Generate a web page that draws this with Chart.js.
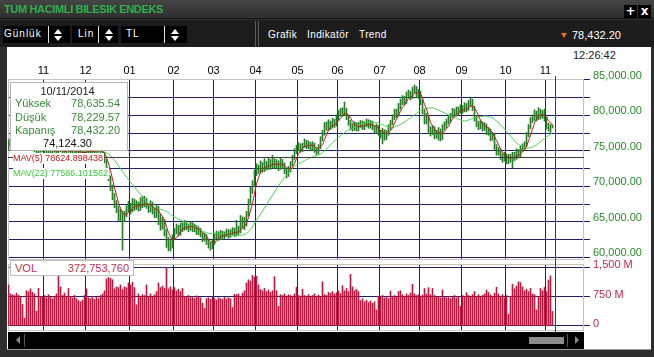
<!DOCTYPE html>
<html><head><meta charset="utf-8">
<script src="https://cdn.jsdelivr.net/npm/chart.js@4.4.1/dist/chart.umd.min.js"></script>
<style>
*{box-sizing:border-box}
html,body{margin:0;padding:0}
body{width:654px;height:357px;position:relative;overflow:hidden;background:#2e2e2e;font-family:"Liberation Sans",Arial,sans-serif}
.a{position:absolute;white-space:nowrap}
#titlebar{left:0;top:0;width:654px;height:19px;background:linear-gradient(#444,#2f2f2f);border-bottom:1px solid #121212}
#title{left:4px;top:3px;color:#2fae4b;font-weight:bold;font-size:11px;line-height:13px;letter-spacing:-0.35px}
.btn{top:5px;width:13px;height:13px;background:#000;color:#fff;font:bold 12px/13px "DejaVu Sans",sans-serif;text-align:center}
#toolbar{left:0;top:20px;width:654px;height:27px;background:#1c1c1c}
.blk{background:#000;top:26px;height:17px}
.sep{background:#e0e0e0;width:1px;top:26px;height:17px}
.dd{color:#fff;font-size:10px;line-height:12px;letter-spacing:1px;top:28px}
.menu{color:#fff;font-size:10px;line-height:12px;letter-spacing:0.4px;top:29px}
.arr{width:8px;height:12px;top:29px}
.arr:before{content:"";position:absolute;left:0;top:0;border-left:4px solid transparent;border-right:4px solid transparent;border-bottom:5px solid #fff}
.arr:after{content:"";position:absolute;left:0;top:7px;border-left:4px solid transparent;border-right:4px solid transparent;border-top:5px solid #fff}
.vline{width:1px;top:21px;height:26px;background:#5a5a5a}
#white{left:7px;top:47px;width:644px;height:302px;background:#fff}
canvas{position:absolute;left:0}
#info{left:10px;top:82px;width:118px;height:69px;background:#fff;border:1px solid #b4b4b4}
#info div{position:absolute;font-size:11px;line-height:13px;white-space:nowrap}
.g{color:#3a8a3a}
.mav{font-size:9px;line-height:11px;background:#fff;padding-right:1px}
#vol{left:10px;top:260px;width:124px;height:16px;background:#fff;border:1px solid #bdbdbd}
#vol div{position:absolute;top:1px;font-size:11px;line-height:13px;color:#c3304e}
#scroll{left:8px;top:332px;width:576px;height:17px;background:#000}
</style>
</head>
<body>
<div class="a" id="titlebar"></div>
<div class="a" id="title">TUM HACIMLI BILESIK ENDEKS</div>
<div class="a btn" style="left:624px">+</div>
<div class="a btn" style="left:638px">x</div>
<div class="a" id="toolbar"></div>
<div class="a blk" style="left:3px;width:67px"></div>
<div class="a blk" style="left:72px;width:46px"></div>
<div class="a blk" style="left:121px;width:66px"></div>
<div class="a sep" style="left:48px"></div>
<div class="a sep" style="left:98px"></div>
<div class="a sep" style="left:164px"></div>
<div class="a dd" style="left:4px">Günlük</div>
<div class="a dd" style="left:78px">Lin</div>
<div class="a dd" style="left:126px">TL</div>
<div class="a arr" style="left:54px"></div>
<div class="a arr" style="left:105px"></div>
<div class="a arr" style="left:171px"></div>
<div class="a vline" style="left:255px"></div>
<div class="a vline" style="left:258px"></div>
<div class="a menu" style="left:268px">Grafik</div>
<div class="a menu" style="left:307px">Indikatör</div>
<div class="a menu" style="left:359px">Trend</div>
<div class="a" style="left:561px;top:33px;width:0;height:0;border-left:3.5px solid transparent;border-right:3.5px solid transparent;border-top:5px solid #f06a1e"></div>
<div class="a" style="left:572px;top:29px;color:#fff;font-size:11px;line-height:13px">78,432.20</div>
<div class="a" id="white"></div>
<div class="a" style="left:573px;top:49px;color:#222;font-size:11px;line-height:13px">12:26:42</div>
<canvas id="price" width="654" height="214" style="top:48px"></canvas>
<canvas id="volume" width="654" height="80" style="top:254px"></canvas>
<div class="a" id="info">
  <div style="left:0;width:113px;text-align:center;top:2px;color:#222">10/11/2014</div>
  <div class="g" style="left:4px;top:14px">Yüksek</div><div class="g" style="right:7px;top:14px">78,635.54</div>
  <div class="g" style="left:4px;top:28px">Düşük</div><div class="g" style="right:7px;top:28px">78,229.57</div>
  <div class="g" style="left:4px;top:41px">Kapanış</div><div class="g" style="right:7px;top:41px">78,432.20</div>
  <div style="left:0;width:113px;text-align:center;top:54px;color:#111">74,124.30</div>
</div>
<div class="a mav" style="left:13px;top:153px;color:#c4161c">MAV(5) 78624.898438</div>
<div class="a mav" style="left:13px;top:168px;color:#3acb3a">MAV(22) 77586.101562</div>
<div class="a" id="vol"><div style="left:4px">VOL</div><div style="right:4px">372,753,760</div></div>
<div class="a" id="scroll"></div>
<div class="a" style="left:16px;top:336px;width:0;height:0;border-top:4px solid transparent;border-bottom:4px solid transparent;border-right:4px solid #8a8a8a"></div>
<div class="a" style="left:24px;top:334px;width:1px;height:13px;background:#555"></div>
<div class="a" style="left:529px;top:337px;width:35px;height:7px;background:#8c8c8c"></div>
<div class="a" style="left:567px;top:334px;width:1px;height:13px;background:#555"></div>
<div class="a" style="left:575px;top:336px;width:0;height:0;border-top:4px solid transparent;border-bottom:4px solid transparent;border-left:4px solid #8a8a8a"></div>
<div class="a" style="left:7px;top:349px;width:644px;height:1px;background:#9a9a9a"></div>
<script>
// ---- data (prices in thousands, volume in millions) ----
const monthLabels = ['11','12','01','02','03','04','05','06','07','08','09','10','11'];
const monthFirstDay = [18,39,61,83,103,124,145,165,186,206,227,249,269];
const close = [75.8,76.4,76.0,76.6,77.0,76.5,76.9,76.2,75.8,76.3,
75.9,75.4,75.8,75.2,74.9,75.5,75.1,75.6,75.0,74.7,
75.2,74.8,75.4,75.0,74.6,75.1,75.5,74.9,74.5,75.0,
75.4,74.9,75.3,74.7,74.4,74.9,75.2,74.8,74.4,74.9,
75.3,74.8,75.2,74.7,75.0,75.4,74.9,74.6,73.6,72.0,
71.2,69.8,68.6,67.4,66.8,65.6,66.2,65.4,66.0,66.8,
67.3,66.6,67.8,67.0,67.5,66.9,67.8,67.4,68.0,67.3,
66.8,67.5,66.6,66.2,67.0,65.9,64.8,65.0,63.6,62.4,
61.6,61.8,62.8,63.6,64.2,63.4,64.4,64.0,64.8,64.3,
64.0,64.6,63.9,64.3,63.5,63.9,63.2,62.6,63.0,62.2,
61.8,61.5,62.0,62.9,63.3,62.8,63.4,62.9,63.2,63.6,
63.1,63.5,63.8,63.2,64.0,63.6,64.4,65.3,64.6,66.0,
67.6,69.4,70.2,71.8,72.6,72.2,73.0,72.4,73.1,72.7,
73.4,72.8,73.6,72.9,73.3,72.6,73.5,73.0,72.2,71.8,
72.3,73.1,74.0,74.9,75.3,75.8,75.1,75.7,76.3,75.6,
76.0,75.4,75.9,75.1,74.8,75.5,76.6,77.4,78.6,78.2,
78.9,78.4,79.1,78.7,79.6,80.2,80.5,80.3,80.6,79.8,
79.0,78.4,78.2,78.7,78.1,78.6,78.9,78.3,78.7,79.1,
78.5,78.9,78.3,77.9,78.4,77.6,77.2,77.8,76.9,77.5,
78.3,78.9,79.6,80.4,80.1,81.2,81.8,82.3,81.9,82.8,
83.1,82.6,83.5,83.9,82.8,83.2,81.9,80.6,79.2,79.8,
78.0,77.6,78.2,77.1,77.4,77.9,76.8,78.3,78.6,79.1,
79.4,79.9,80.6,80.2,80.8,80.5,81.1,80.7,81.3,80.9,
81.6,82.0,81.0,79.6,78.8,78.4,78.9,78.2,78.6,77.6,
77.9,76.8,77.2,75.6,74.8,75.0,74.2,73.9,74.4,73.6,
74.1,73.9,74.4,74.1,74.9,74.4,75.2,75.6,75.8,77.2,
78.3,79.3,79.6,80.4,79.6,80.7,79.8,80.2,79.6,78.6,
78.2,78.3,78.4322];
const high = [76.6,76.8,76.7,77.0,77.4,77.3,77.3,77.1,76.5,76.6,
76.6,76.1,76.1,76.0,75.5,75.8,75.8,75.9,75.8,75.3,
75.5,75.4,75.7,75.7,75.2,75.4,75.8,75.7,75.1,75.3,
75.7,75.6,75.6,75.5,74.9,75.2,75.5,75.4,75.0,75.2,
75.6,75.5,75.5,75.4,75.3,75.7,75.6,75.1,74.8,73.8,
72.6,71.5,70.2,69.0,68.0,67.2,66.8,66.5,66.5,67.3,
67.9,67.6,68.3,68.2,68.0,67.8,68.4,68.6,68.6,68.3,
67.6,68.0,67.8,66.9,67.4,67.2,66.1,65.6,65.3,63.9,
62.8,62.4,63.2,64.1,64.7,64.5,64.8,64.9,65.2,65.1,
64.7,65.0,64.9,64.7,64.5,64.3,64.1,63.5,63.4,63.2,
62.5,62.1,62.4,63.3,63.7,63.6,63.8,63.7,63.6,64.0,
63.9,63.9,64.2,64.1,65.2,64.4,65.9,65.7,65.6,66.5,
68.2,69.9,70.8,72.3,73.2,73.0,73.6,73.4,73.9,73.5,
74.0,73.8,74.4,73.9,73.8,73.6,74.0,73.8,73.3,72.5,
72.8,73.5,74.4,75.3,75.8,76.2,76.0,76.1,76.7,76.5,
76.4,76.2,76.3,76.1,75.4,75.9,77.0,77.9,79.0,79.1,
79.4,79.2,79.6,79.5,80.1,80.7,81.0,81.1,81.9,81.0,
80.1,79.3,78.9,79.1,79.0,79.0,79.3,79.2,79.1,79.5,
79.4,79.3,79.2,78.6,78.8,78.6,77.9,78.2,78.0,77.9,
78.7,79.3,80.1,80.9,80.9,81.7,82.3,82.8,82.7,83.3,
83.6,83.4,84.0,84.3,84.1,83.7,83.4,82.2,80.9,80.3,
80.0,78.4,78.6,78.4,77.9,78.3,78.1,78.7,79.1,79.5,
79.9,80.3,81.0,80.9,81.2,81.2,81.5,81.4,81.8,81.7,
82.1,82.5,82.3,81.3,80.0,79.2,79.3,79.1,79.0,78.8,
78.3,78.1,77.6,77.4,75.9,75.5,75.3,74.6,74.8,74.6,
74.5,74.5,74.8,74.8,75.3,75.2,75.7,76.0,76.3,77.6,
78.7,79.7,80.1,80.8,80.6,81.1,80.9,80.7,80.9,79.8,
78.9,78.7,78.63554];
const low = [75.1,75.6,75.7,75.8,76.4,76.2,76.3,75.9,75.5,75.6,
75.6,75.1,75.2,74.9,74.6,74.7,74.8,74.9,74.7,74.5,
74.5,74.5,74.6,74.8,74.3,74.4,74.9,74.7,74.2,74.3,
74.8,74.6,74.7,74.5,74.1,74.2,74.7,74.5,74.1,74.2,
74.7,74.5,74.6,74.4,74.5,74.8,74.6,74.3,73.3,71.6,
70.8,69.4,68.1,67.0,66.3,65.1,65.2,61.0,65.0,65.7,
66.4,66.1,66.4,66.6,66.7,66.5,66.6,67.0,67.1,66.9,
66.3,66.4,66.1,65.6,65.6,64.6,63.8,64.0,63.0,61.4,
60.9,60.9,61.3,62.5,63.3,63.0,63.1,63.6,63.8,63.9,
63.6,63.8,63.6,63.6,63.2,63.2,62.9,62.2,62.3,61.8,
61.3,61.0,61.2,61.8,62.6,62.4,62.5,62.5,62.6,62.9,
62.7,62.8,63.1,62.9,63.0,63.2,63.4,64.1,63.9,64.4,
65.8,67.4,69.0,70.0,71.5,71.8,71.9,72.0,72.1,72.3,
72.4,72.4,72.6,72.5,72.6,72.2,72.4,72.6,71.8,71.2,
71.4,72.0,72.9,73.8,74.6,75.0,74.8,74.9,75.5,75.3,
75.3,75.0,75.1,74.8,74.4,74.6,75.3,76.4,77.2,77.9,
77.9,78.0,78.2,78.3,78.5,79.4,79.9,79.9,80.0,79.4,
78.6,78.0,77.8,77.9,77.8,77.8,78.3,78.0,78.0,78.4,
78.2,78.2,78.0,77.5,77.6,77.2,76.8,76.0,76.5,76.6,
77.2,78.0,78.7,79.4,79.7,79.9,80.9,81.5,81.5,81.7,
82.5,82.2,82.4,83.2,82.5,82.4,81.5,80.2,78.8,78.8,
77.6,77.1,77.3,76.7,76.8,76.5,76.4,76.6,78.0,78.3,
78.8,79.1,79.7,79.9,79.9,80.1,80.3,80.3,80.5,80.5,
80.7,81.3,80.7,79.2,78.4,78.0,78.1,77.8,77.9,77.3,
77.2,76.4,76.5,75.2,74.4,74.4,73.8,73.4,73.6,73.2,
73.2,73.4,72.6,73.6,73.8,74.0,74.1,74.9,75.2,75.6,
77.0,78.1,79.0,79.3,79.2,79.4,79.5,79.6,79.2,78.1,
77.8,77.6,78.22957];
const volume = [1050,820,800,780,840,790,760,550,200,900,
880,950,860,820,380,960,760,740,780,720,
800,750,700,760,820,1290,1000,780,840,760,
960,760,720,780,700,650,620,660,780,950,
720,700,760,680,740,700,780,820,900,1200,
1240,1220,1180,950,1000,980,1050,930,1000,980,
1100,1050,1120,980,540,820,760,800,780,1050,
760,820,740,800,880,1100,980,1020,960,1500,
950,1000,920,980,900,940,880,960,760,740,
780,720,750,700,770,740,720,580,450,700,
720,680,740,700,660,720,700,680,740,690,
720,700,470,810,800,820,760,840,900,1100,
1180,1150,1290,1250,1270,1050,930,900,960,880,
920,860,900,1260,900,500,800,780,820,760,
800,780,760,820,990,780,760,940,780,760,
800,740,780,820,760,790,740,1130,800,780,
860,840,880,820,850,900,830,1030,900,960,
880,1320,1000,900,940,880,650,700,620,660,
600,640,580,620,410,760,740,780,720,750,
700,895,760,780,740,880,900,800,760,820,
780,840,1065,820,780,800,760,790,960,820,
980,800,960,780,740,760,720,920,740,720,
760,700,740,780,720,760,500,780,760,850,
780,740,800,880,760,800,740,780,820,920,
860,800,760,840,990,820,760,800,720,780,
300,760,1065,950,1020,1130,1110,1000,900,940,
880,960,820,800,410,760,960,900,990,880,
1175,1280,373];
const priceGrid = [60000,62500,65000,67500,70000,72500,75000,77500,80000,82500,85000];
const volumeTicks = [0,750,1500];
const volumeTickLabels = ['0','750 M','1,500 M'];
const cursorIndex = 273.5;
const cursorPrice = 74124.30;

// ---- build ----
const K = 1000;
function movingAverage(arr, n){
  return arr.map((_, i) => { const s = Math.max(0, i - n + 1); let sum = 0;
    for (let k = s; k <= i; k++) sum += arr[k]; return sum / (i - s + 1); });
}
const closeV = close.map(v => v * K);
const mav5 = movingAverage(closeV, 5);
const mav22 = movingAverage(closeV, 22);
const ohlc = close.map((_, i) => ({x: i, y: [low[i] * K, high[i] * K]}));
const volData = volume.map((v, i) => ({x: i, y: v}));

const FONT = '"Liberation Sans", Arial, sans-serif';
const GRID = '#1f1f6c';
const fmt = v => v.toLocaleString('en-US', {minimumFractionDigits: 2, maximumFractionDigits: 2});

const boxPlugin = { id: 'box', beforeDatasetsDraw(c){ const {ctx, chartArea: a} = c; ctx.save();
  ctx.strokeStyle = '#c4c4c4'; ctx.lineWidth = 1;
  ctx.strokeRect(a.left + 0.5, a.top + 0.5, a.right - a.left - 1, a.bottom - a.top - 1); ctx.restore(); } };

function crossPlugin(topFn, bottomFn, withH){
  return { id: 'cross', afterDatasetsDraw(c){ const {ctx, chartArea: a} = c; ctx.save();
    ctx.strokeStyle = '#3c3c3c'; ctx.lineWidth = 1;
    const x = Math.floor(c.scales.x.getPixelForValue(cursorIndex)) + 0.5;
    ctx.beginPath(); ctx.moveTo(x, topFn(c)); ctx.lineTo(x, bottomFn(c)); ctx.stroke();
    if (withH){ const y = Math.floor(c.scales.y.getPixelForValue(cursorPrice)) + 0.5;
      ctx.beginPath(); ctx.moveTo(a.left, y); ctx.lineTo(a.right, y); ctx.stroke(); }
    ctx.restore(); } };
}
function noPad(s){ s.paddingTop = 0; s.paddingBottom = 0; s.paddingLeft = 0; s.paddingRight = 0; }

const xCommon = { type: 'linear', min: -0.25, max: 287.75, offset: false,
  afterBuildTicks: s => { s.ticks = monthFirstDay.map(d => ({value: d - 0.5})); } };

new Chart(document.getElementById('price'), {
  type: 'bar',
  data: { datasets: [
    { type: 'line', label: 'MAV(5)', data: mav5.map((v, i) => ({x: i, y: v})), borderColor: '#c8181c', borderWidth: 1, pointRadius: 0, tension: 0 },
    { type: 'line', label: 'MAV(22)', data: mav22.map((v, i) => ({x: i, y: v})), borderColor: '#45d445', borderWidth: 1, pointRadius: 0, tension: 0 },
    { type: 'bar', label: 'TUM', data: ohlc, backgroundColor: '#2b7d2b', barThickness: 1, borderWidth: 0 }
  ]},
  options: {
    responsive: false, animation: false, devicePixelRatio: 1, events: [],
    layout: { padding: { left: 8, right: 0, top: 0, bottom: 2 } },
    plugins: { legend: { display: false }, tooltip: { enabled: false } },
    scales: {
      x: Object.assign({}, xCommon, { position: 'top',
        grid: { color: GRID, offset: false, drawTicks: false },
        border: { display: false },
        ticks: { autoSkip: false, maxRotation: 0, padding: 1, color: '#000', font: { family: FONT, size: 11 },
                 callback: (v, i) => monthLabels[i] },
        afterFit: s => { s.height = 31; noPad(s); } }),
      y: { type: 'linear', position: 'right', min: 59619, max: 85141,
        grid: { color: GRID, tickColor: GRID, tickLength: 6 },
        border: { display: false },
        ticks: { autoSkip: false, padding: 3, labelOffset: -4, color: '#2a8a2a', font: { family: FONT, size: 11 },
                 callback: v => (v % 5000 === 0 ? fmt(v) : '') },
        afterBuildTicks: s => { s.ticks = priceGrid.map(v => ({value: v})); },
        afterFit: s => { s.width = 70; noPad(s); } }
    }
  },
  plugins: [boxPlugin, crossPlugin(() => 28, c => c.height, true)]
});

new Chart(document.getElementById('volume'), {
  type: 'bar',
  data: { datasets: [
    { label: 'VOL', data: volData, backgroundColor: '#b81a42', barThickness: 1, borderWidth: 0 }
  ]},
  options: {
    responsive: false, animation: false, devicePixelRatio: 1, events: [],
    layout: { padding: { left: 8, right: 0, top: 10, bottom: 3 } },
    plugins: { legend: { display: false }, tooltip: { enabled: false } },
    scales: {
      x: Object.assign({}, xCommon, { position: 'bottom',
        grid: { color: GRID, offset: false, drawTicks: false },
        border: { display: false },
        ticks: { display: false },
        afterFit: s => { s.height = 0; noPad(s); } }),
      y: { type: 'linear', position: 'right', min: -128, max: 1584,
        grid: { color: GRID, tickColor: GRID, tickLength: 6 },
        border: { display: false },
        ticks: { autoSkip: false, padding: 3, labelOffset: -2, color: '#c0284a', font: { family: FONT, size: 11 },
                 callback: (v, i) => volumeTickLabels[i] },
        afterBuildTicks: s => { s.ticks = volumeTicks.map(v => ({value: v})); },
        afterFit: s => { s.width = 70; noPad(s); } }
    }
  },
  plugins: [boxPlugin, crossPlugin(c => c.chartArea.top - 2, c => c.chartArea.bottom + 1, false)]
});
</script>
</body></html>
